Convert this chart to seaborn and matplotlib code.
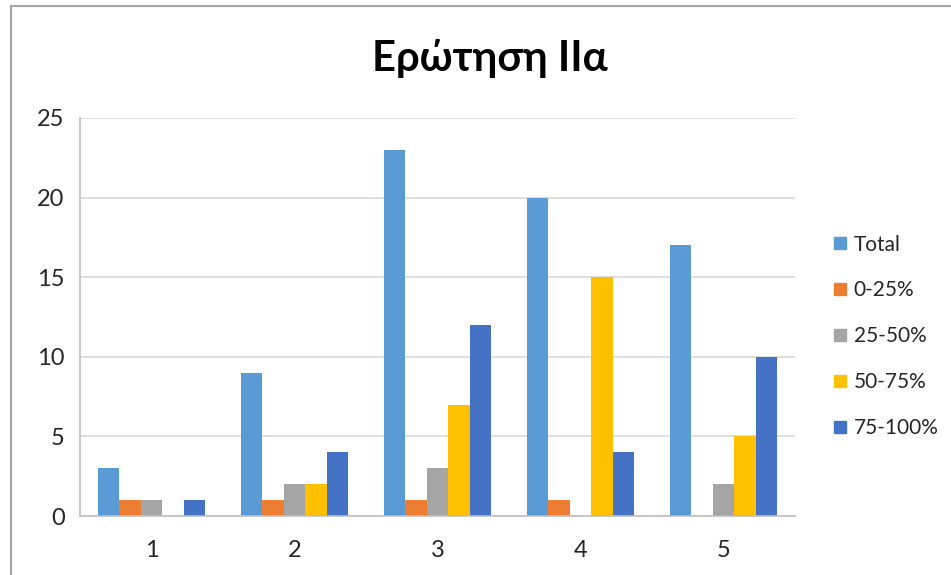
import pandas as pd
import matplotlib.pyplot as plt
import seaborn as sns
from matplotlib.lines import Line2D

# Data
categories = ['1', '2', '3', '4', '5']
series_names = ['Total', '0-25%', '25-50%', '50-75%', '75-100%']
total = [3, 9, 23, 20, 17]
q0_25 = [1, 1, 1, 1, 0]
q25_50 = [1, 2, 3, 0, 2]
q50_75 = [0, 2, 7, 15, 5]
q75_100 = [1, 4, 12, 4, 10]
colors = ['#5B9BD5', '#ED7D31', '#A5A5A5', '#FFC000', '#4472C4']

rows = []
for name, vals in zip(series_names, [total, q0_25, q25_50, q50_75, q75_100]):
    for cat, v in zip(categories, vals):
        rows.append({'question': cat, 'series': name, 'count': v})
df = pd.DataFrame(rows)

sns.set_style('white')
plt.rcParams['font.family'] = ['Lato', 'DejaVu Sans']

fig = plt.figure(figsize=(9.51, 5.75), dpi=100)
ax = fig.add_axes([0.0841, 0.1026, 0.752, 0.6922])

sns.barplot(data=df, x='question', y='count', hue='series', order=categories,
            hue_order=series_names, palette=colors, width=0.75, saturation=1,
            linewidth=0, ax=ax, legend=False)

ax.set_ylim(0, 25)
ax.set_yticks(range(0, 26, 5))
ax.set_xlim(-0.5, 4.5)
ax.yaxis.grid(True, color='#D9D9D9', linewidth=1.2)
ax.set_axisbelow(True)
for side in ['top', 'right']:
    ax.spines[side].set_visible(False)
for side in ['left', 'bottom']:
    ax.spines[side].set_color('#BFBFBF')
    ax.spines[side].set_linewidth(1.2)
ax.tick_params(axis='both', length=0, labelsize=17, colors='#262626')
ax.tick_params(axis='y', pad=11)
ax.tick_params(axis='x', pad=17)
ax.set_xlabel('')
ax.set_ylabel('')

fig.text(0.515, 0.898, 'Ερώτηση ΙΙα', ha='center', va='center',
         fontsize=30, fontweight='bold', color='black')

handles = [Line2D([0], [0], marker='s', linestyle='', markersize=8,
                  markerfacecolor=c, markeredgecolor=c) for c in colors]
fig.legend(handles, series_names, loc='upper left', bbox_to_anchor=(0.866, 0.61),
           frameon=False, fontsize=15, handlelength=0.6, handletextpad=0.35,
           labelspacing=1.24, borderpad=0, labelcolor='#262626')

# chart frame (top and left edges visible in the reference)
fig.add_artist(Line2D([11 / 951, 11 / 951], [0, 1 - 6 / 575], color='#A6A6A6',
                      linewidth=1.5, transform=fig.transFigure))
fig.add_artist(Line2D([11 / 951, 1], [1 - 6 / 575, 1 - 6 / 575], color='#A6A6A6',
                      linewidth=1.5, transform=fig.transFigure))

fig.savefig('out.png', dpi=100)
